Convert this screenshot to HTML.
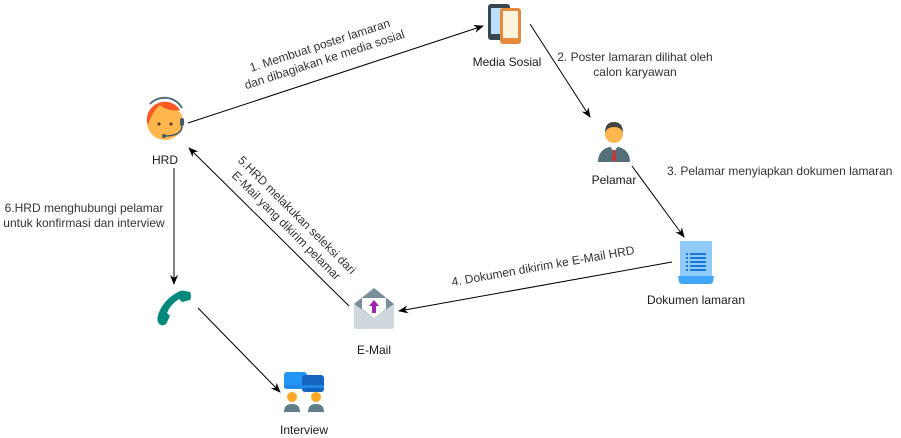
<!DOCTYPE html>
<html><head><meta charset="utf-8"><style>
html,body{margin:0;padding:0;background:#fff;}
svg{display:block;font-family:"Liberation Sans",Arial,sans-serif;font-size:12px;fill:#1a1a1a;}
</style></head><body>
<svg width="901" height="438" viewBox="0 0 901 438" xmlns="http://www.w3.org/2000/svg">
<defs>
<marker id="a" markerWidth="10" markerHeight="10" refX="9" refY="5" orient="auto" markerUnits="userSpaceOnUse">
<path d="M0,1 L10,5 L0,9 L3,5 Z" fill="#000"/>
</marker>
</defs>
<g stroke="#000" stroke-width="1" fill="none">
<line x1="188" y1="123" x2="483" y2="26" marker-end="url(#a)"/>
<line x1="530" y1="24" x2="590" y2="117" marker-end="url(#a)"/>
<line x1="632" y1="166" x2="684" y2="237" marker-end="url(#a)"/>
<line x1="672" y1="262" x2="399" y2="311" marker-end="url(#a)"/>
<line x1="349" y1="306" x2="189" y2="148" marker-end="url(#a)"/>
<line x1="174" y1="168" x2="174" y2="284" marker-end="url(#a)"/>
<line x1="198" y1="308" x2="280" y2="392" marker-end="url(#a)"/>
</g>
<!-- HRD icon -->
<circle cx="165" cy="122" r="18" fill="#ffb74d"/>
<path d="M147,122 A18,18 0 0 1 180,110 Q168,112 160,105 Q152,112 148,125 Z" fill="#ff5722"/>
<circle cx="159" cy="124" r="1.6" fill="#5d4037"/><circle cx="171" cy="124" r="1.6" fill="#5d4037"/>
<path d="M150,104 A20,20 0 0 1 182,108" stroke="#546e7a" stroke-width="2" fill="none"/>
<rect x="180" y="118" width="4" height="8" rx="2" fill="#455a64"/>
<path d="M182,126 Q182,136 164,136" stroke="#455a64" stroke-width="1.5" fill="none"/>
<circle cx="164" cy="136" r="2" fill="#455a64"/>
<text x="165" y="164" text-anchor="middle">HRD</text>
<!-- Media sosial -->
<rect x="488" y="4" width="22" height="36" rx="3" fill="#37474f"/>
<rect x="491" y="8" width="16" height="26" fill="#bbdefb"/>
<rect x="500" y="8" width="21" height="36" rx="3" fill="#e58a3a"/>
<rect x="503" y="11" width="15" height="27" fill="#fff3e0"/>
<text x="507" y="66" text-anchor="middle">Media Sosial</text>
<!-- Pelamar -->
<path d="M598,162 Q598,148 614,146 Q630,148 630,162 Z" fill="#546e7a"/>
<path d="M610,146 L614,152 L618,146 Z" fill="#fff"/>
<path d="M613,150 L615,150 L616,160 L614,162 L612,160 Z" fill="#d32f2f"/>
<circle cx="614" cy="134" r="9" fill="#ffb74d"/>
<path d="M605,133 Q605,122 614,122 Q623,122 623,133 Q621,127 614,127 Q607,127 605,133 Z" fill="#424242"/>
<text x="614" y="184" text-anchor="middle">Pelamar</text>
<!-- Dokumen -->
<rect x="680" y="241" width="32" height="38" fill="#90caf9"/>
<path d="M678,276 L714,276 L713,282 Q712,284 710,284 L682,284 Q680,284 679,282 Z" fill="#42a5f5"/>
<g fill="#1976d2"><rect x="686" y="253" width="2" height="2"/><rect x="690" y="253" width="16" height="2"/><rect x="686" y="257" width="2" height="2"/><rect x="690" y="257" width="16" height="2"/><rect x="686" y="261" width="2" height="2"/><rect x="690" y="261" width="16" height="2"/><rect x="686" y="265" width="2" height="2"/><rect x="690" y="265" width="16" height="2"/><rect x="686" y="269" width="2" height="2"/><rect x="690" y="269" width="16" height="2"/></g>
<text x="696" y="304" text-anchor="middle">Dokumen lamaran</text>
<!-- Email -->
<path d="M354,304 L374,288 L394,304 L394,327 Q394,329 392,329 L356,329 Q354,329 354,327 Z" fill="#cfd8dc"/>
<path d="M354,304 L374,288 L394,304 L374,318 Z" fill="#78909c"/>
<path d="M362,298 L386,298 L386,309 L374,318 L362,309 Z" fill="#fff"/>
<path d="M374,300 L379,306 L376,306 L376,313 L372,313 L372,306 L369,306 Z" fill="#9c27b0"/>
<text x="374" y="354" text-anchor="middle">E-Mail</text>
<!-- Phone -->
<path d="M161,325 Q156,323 158,315 Q163,300 178,292 Q182,290 185,291 L190,292 Q192,296 190,300 L182,302 L179,299 Q170,305 167,313 L170,316 L166,324 Q163,326 161,325 Z" fill="#00897b"/>
<!-- Interview -->
<rect x="284" y="372" width="23" height="17" rx="3" fill="#2196f3"/>
<rect x="302" y="375" width="22" height="17" rx="3" fill="#1565c0"/>
<rect x="284" y="385" width="40" height="3" fill="#1e88e5"/>
<circle cx="292" cy="397" r="5" fill="#ffa726"/><circle cx="316" cy="397" r="5" fill="#ffa726"/>
<path d="M284,412 Q284,404 292,404 Q300,404 300,412 Z" fill="#607d8b"/>
<path d="M308,412 Q308,404 316,404 Q324,404 324,412 Z" fill="#607d8b"/>
<text x="304" y="434" text-anchor="middle">Interview</text>
<!-- labels -->
<g fill="#333">
<g transform="translate(322,52) rotate(-18)"><rect x="-80" y="-15" width="160" height="30" fill="#fff"/><text x="0" y="-3" text-anchor="middle">1. Membuat poster lamaran</text><text x="0" y="12" text-anchor="middle">dan dibagiakan ke media sosial</text></g>
<text x="635" y="61" text-anchor="middle">2. Poster lamaran dilihat oleh</text>
<text x="635" y="76" text-anchor="middle">calon karyawan</text>
<text x="667" y="175">3. Pelamar menyiapkan dokumen lamaran</text>
<g transform="translate(543,266) rotate(-10)"><text x="0" y="4" text-anchor="middle">4. Dokumen dikirim ke E-Mail HRD</text></g>
<g transform="translate(292,220) rotate(45)"><text x="0" y="-3" text-anchor="middle">5.HRD melakukan seleksi dari</text><text x="0" y="12" text-anchor="middle">E-Mail yang dikirim pelamar</text></g>
<text x="84" y="212" text-anchor="middle">6.HRD menghubungi pelamar</text>
<text x="84" y="227" text-anchor="middle">untuk konfirmasi dan interview</text>
</g>
</svg>
</body></html>
